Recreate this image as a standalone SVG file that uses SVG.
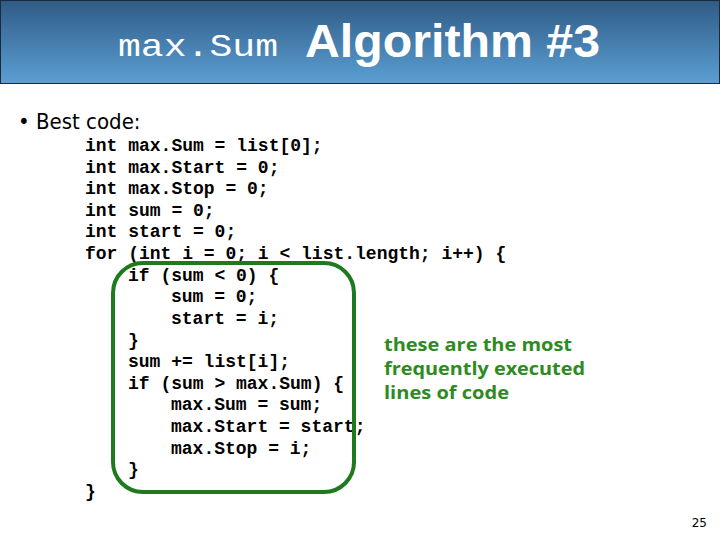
<svg xmlns="http://www.w3.org/2000/svg" width="720" height="540" viewBox="0 0 720 540">
<defs>
<linearGradient id="hdr" x1="0" y1="0" x2="0" y2="1">
<stop offset="0" stop-color="#2f5b85"/><stop offset="1" stop-color="#5c9fd4"/>
</linearGradient>
</defs>
<style>
.code{font-family:"Liberation Mono",monospace;font-size:18px;font-weight:bold;fill:#000;white-space:pre}
.note{font-family:"Open Sans","DejaVu Sans",sans-serif;font-size:17.5px;font-weight:bold;fill:#2e8b22}
</style>
<rect x="0.5" y="0.5" width="719" height="83" fill="url(#hdr)" stroke="#1a2a3a"/>
<text x="118" y="56" font-family="Liberation Mono,monospace" font-size="32" fill="#fff" textLength="160" lengthAdjust="spacingAndGlyphs">max.Sum</text>
<text x="305" y="57" font-family="Liberation Sans,Arial,sans-serif" font-size="46" font-weight="bold" fill="#fff" textLength="295" lengthAdjust="spacingAndGlyphs">Algorithm #3</text>
<text x="18" y="129" font-family="DejaVu Sans Condensed,DejaVu Sans,sans-serif" font-size="22" fill="#000">• Best code:</text>
<g id="code">
<text class="code" x="85" y="151">int max.Sum = list[0];</text>
<text class="code" x="85" y="173">int max.Start = 0;</text>
<text class="code" x="85" y="194">int max.Stop = 0;</text>
<text class="code" x="85" y="216">int sum = 0;</text>
<text class="code" x="85" y="237">int start = 0;</text>
<text class="code" x="85" y="259">for (int i = 0; i &lt; list.length; i++) {</text>
<text class="code" x="128" y="281">if (sum &lt; 0) {</text>
<text class="code" x="171" y="302">sum = 0;</text>
<text class="code" x="171" y="324">start = i;</text>
<text class="code" x="128" y="346">}</text>
<text class="code" x="128" y="367">sum += list[i];</text>
<text class="code" x="128" y="389">if (sum &gt; max.Sum) {</text>
<text class="code" x="171" y="410">max.Sum = sum;</text>
<text class="code" x="171" y="432">max.Start = start;</text>
<text class="code" x="171" y="454">max.Stop = i;</text>
<text class="code" x="128" y="475">}</text>
<text class="code" x="85" y="497">}</text>
</g>
<g id="highlight">
<rect x="113" y="263" width="241" height="229" rx="30" fill="none" stroke="#1f7a1f" stroke-width="4"/>
</g>
<g id="note">
<text class="note" x="384" y="351" textLength="188" lengthAdjust="spacingAndGlyphs">these are the most</text>
<text class="note" x="384" y="375" textLength="201" lengthAdjust="spacingAndGlyphs">frequently executed</text>
<text class="note" x="384" y="399" textLength="125" lengthAdjust="spacingAndGlyphs">lines of code</text>
</g>
<text x="707" y="527" text-anchor="end" font-family="DejaVu Sans,sans-serif" font-size="12" fill="#000">25</text>
</svg>
